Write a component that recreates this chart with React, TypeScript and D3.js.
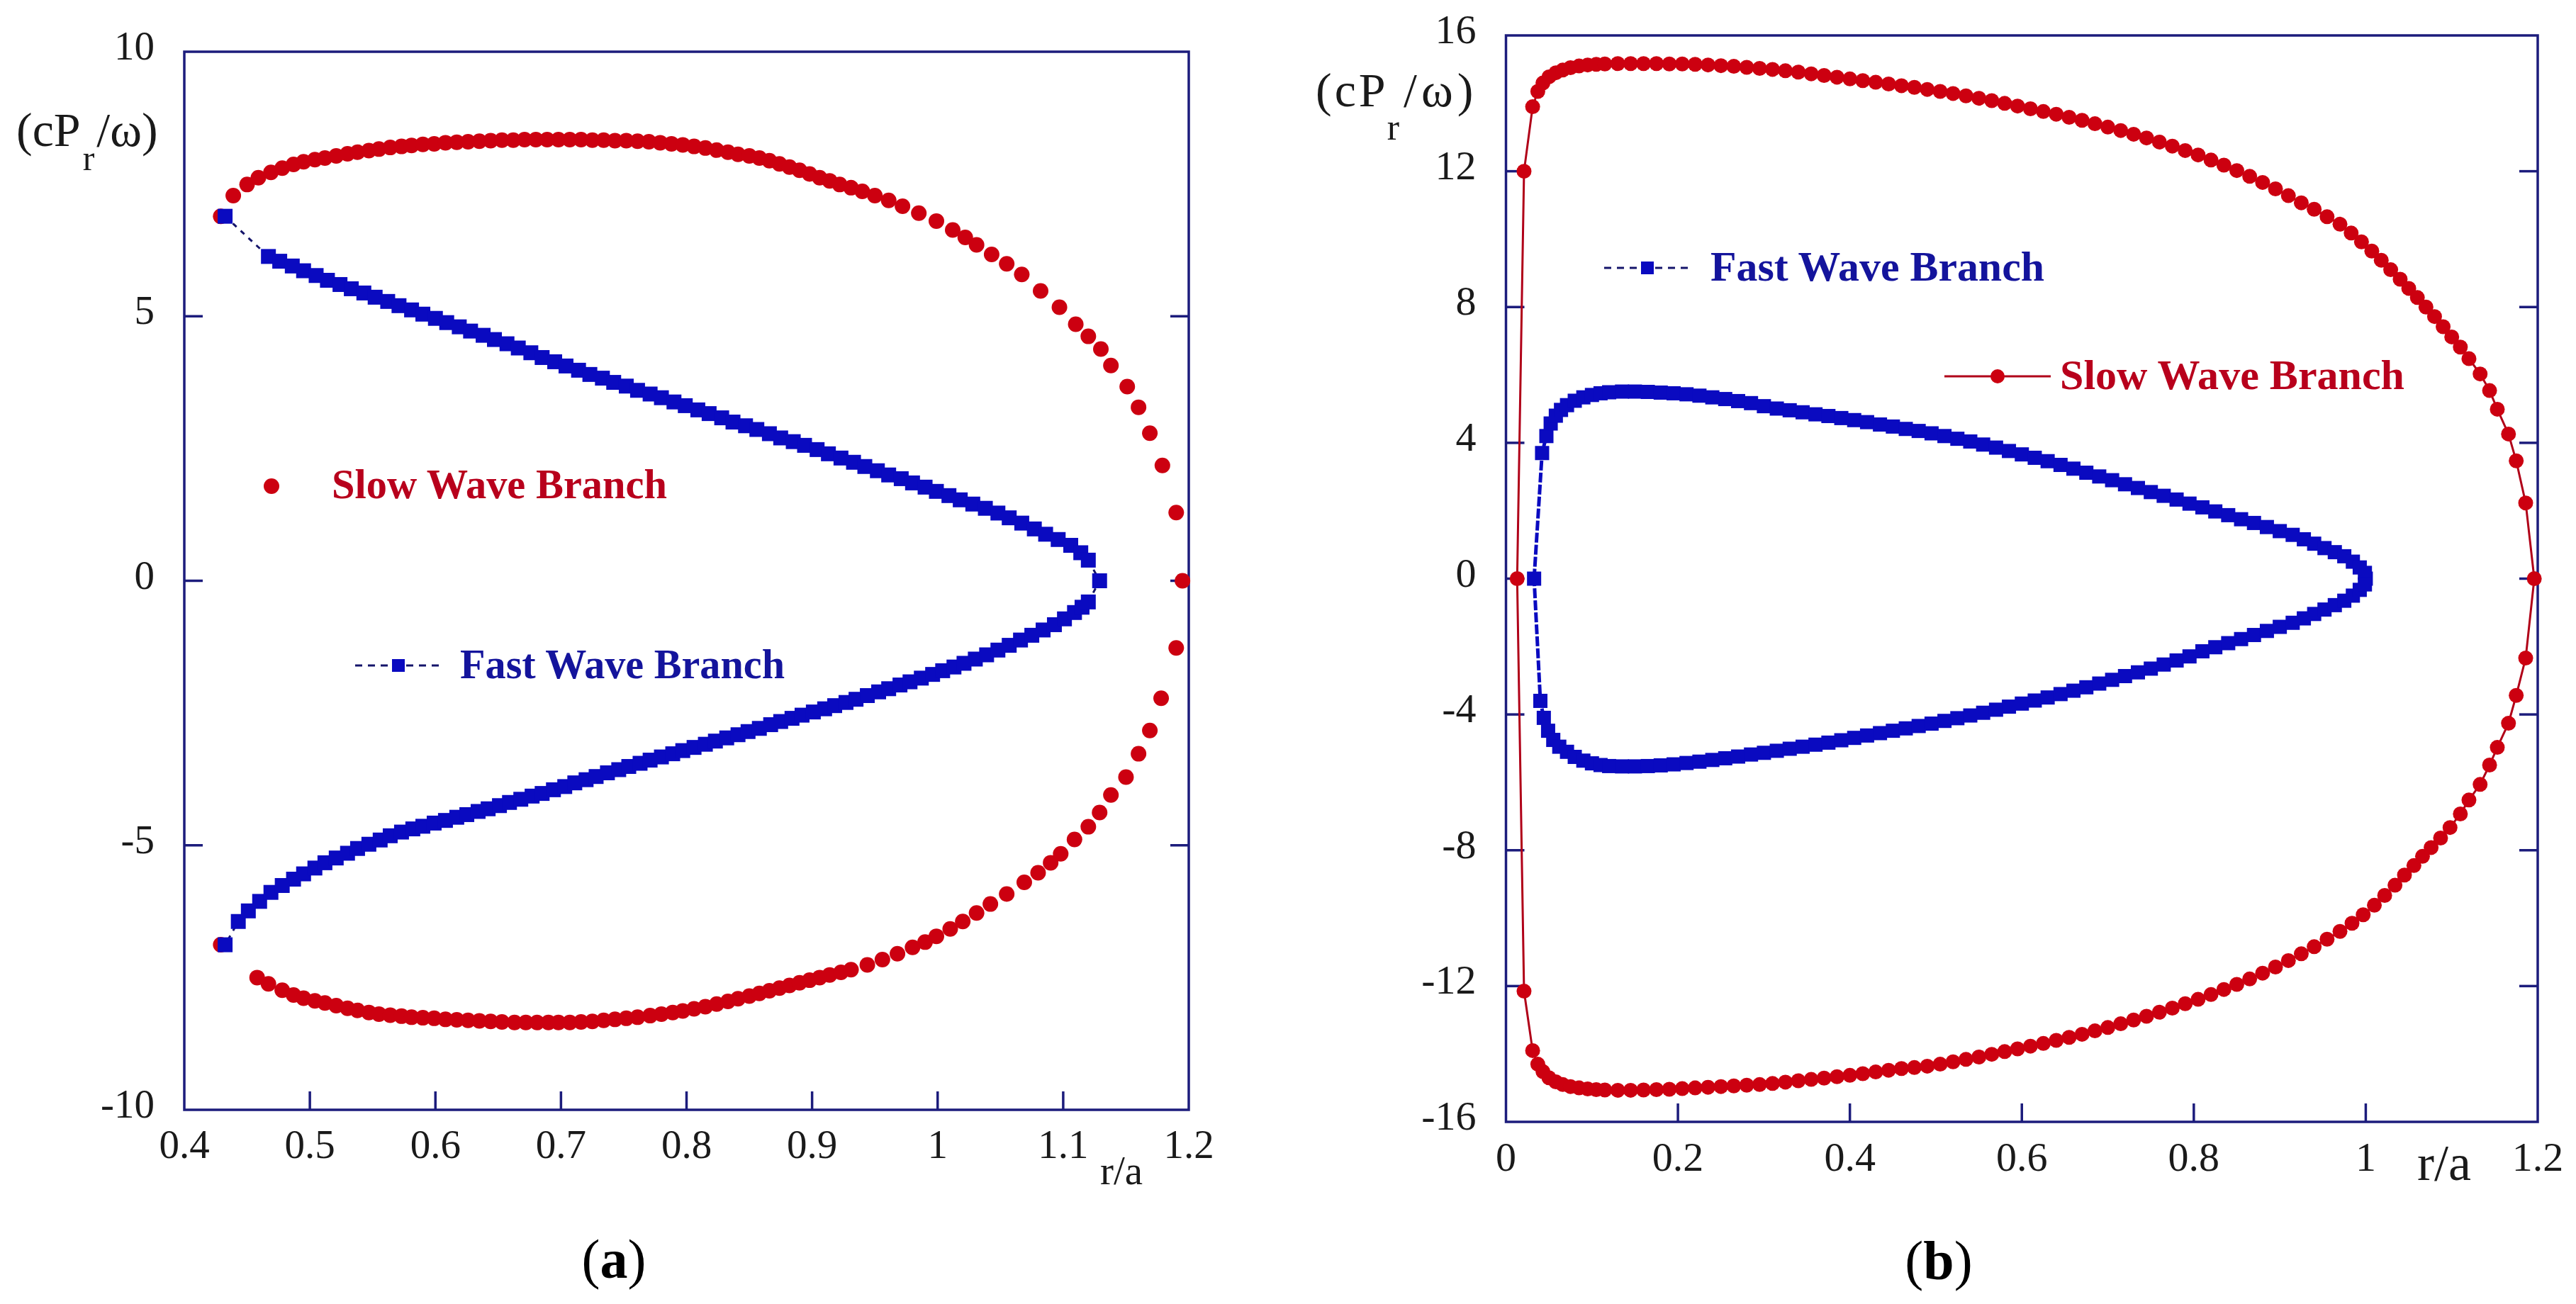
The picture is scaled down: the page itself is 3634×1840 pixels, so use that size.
import React from 'react';
import * as d3 from 'd3';

const W = 3634;
const H = 1840;
const FONT = "'Liberation Serif', 'Times New Roman', serif";
const AXIS = '#1c1c7c';
const RED = '#cc0010';
const RED_LINE = '#b00018';
const BLUE = '#0a0ac0';
const DASH = '#14146a';
const TXT = '#1a1a1a';

type P = [number, number];

// ---------- Panel (a) ----------
const slowAUpper: P[] = [
  [0.429, 6.89], [0.439, 7.28], [0.450, 7.49], [0.459, 7.62], [0.469, 7.72], [0.478, 7.80], [0.487, 7.87],
  [0.495, 7.92], [0.504, 7.96], [0.512, 7.99], [0.521, 8.03], [0.530, 8.07], [0.538, 8.10], [0.547, 8.13],
  [0.555, 8.16], [0.564, 8.19], [0.573, 8.21], [0.581, 8.23], [0.590, 8.25], [0.599, 8.26], [0.608, 8.28],
  [0.617, 8.29], [0.626, 8.30], [0.635, 8.31], [0.644, 8.32], [0.653, 8.33], [0.662, 8.33], [0.671, 8.34],
  [0.680, 8.34], [0.689, 8.34], [0.698, 8.34], [0.707, 8.34], [0.716, 8.34], [0.725, 8.33], [0.734, 8.33],
  [0.743, 8.32], [0.752, 8.32], [0.761, 8.31], [0.770, 8.30], [0.779, 8.28], [0.788, 8.26], [0.797, 8.24],
  [0.806, 8.21], [0.815, 8.18], [0.824, 8.14], [0.833, 8.10], [0.841, 8.06], [0.850, 8.03], [0.858, 7.99],
  [0.866, 7.94], [0.874, 7.88], [0.882, 7.82], [0.890, 7.76], [0.898, 7.69], [0.906, 7.62], [0.914, 7.56],
  [0.922, 7.49], [0.931, 7.43], [0.940, 7.36], [0.950, 7.28], [0.961, 7.19], [0.972, 7.08], [0.985, 6.95],
  [0.999, 6.80], [1.012, 6.63], [1.022, 6.49], [1.031, 6.35], [1.043, 6.17], [1.055, 5.99], [1.067, 5.79],
  [1.082, 5.48], [1.097, 5.17], [1.110, 4.85], [1.120, 4.62], [1.130, 4.38], [1.138, 4.07], [1.151, 3.67],
  [1.160, 3.28], [1.169, 2.79], [1.179, 2.18], [1.190, 1.29], [1.195, 0],
];
const slowALower: P[] = [
  [0.429, -6.88], [0.458, -7.50], [0.467, -7.62], [0.478, -7.74], [0.487, -7.83], [0.495, -7.89], [0.504, -7.94],
  [0.512, -7.98], [0.521, -8.03], [0.530, -8.08], [0.538, -8.12], [0.547, -8.16], [0.555, -8.19], [0.564, -8.21],
  [0.573, -8.23], [0.581, -8.25], [0.590, -8.26], [0.599, -8.27], [0.608, -8.29], [0.617, -8.30], [0.626, -8.31],
  [0.635, -8.32], [0.644, -8.33], [0.653, -8.34], [0.663, -8.35], [0.672, -8.35], [0.681, -8.35], [0.690, -8.35],
  [0.698, -8.35], [0.707, -8.35], [0.716, -8.34], [0.725, -8.33], [0.734, -8.31], [0.743, -8.29], [0.752, -8.27],
  [0.761, -8.25], [0.771, -8.22], [0.780, -8.19], [0.789, -8.16], [0.797, -8.13], [0.806, -8.09], [0.815, -8.05],
  [0.824, -8.00], [0.833, -7.95], [0.841, -7.90], [0.850, -7.85], [0.858, -7.80], [0.866, -7.75], [0.874, -7.70],
  [0.882, -7.65], [0.890, -7.60], [0.898, -7.55], [0.906, -7.50], [0.914, -7.45], [0.923, -7.40], [0.931, -7.35],
  [0.944, -7.26], [0.956, -7.16], [0.968, -7.05], [0.980, -6.93], [0.990, -6.83], [0.999, -6.72], [1.010, -6.58],
  [1.020, -6.44], [1.031, -6.28], [1.042, -6.11], [1.055, -5.92], [1.069, -5.70], [1.080, -5.52], [1.090, -5.33],
  [1.098, -5.16], [1.109, -4.89], [1.120, -4.65], [1.129, -4.38], [1.138, -4.05], [1.150, -3.71], [1.160, -3.27],
  [1.169, -2.83], [1.178, -2.22], [1.190, -1.27],
];
const fastAUpper: P[] = [
  [0.4325, 6.89], [0.467, 6.13], [0.476, 6.04], [0.486, 5.95], [0.495, 5.86], [0.505, 5.77], [0.514, 5.68],
  [0.524, 5.60], [0.533, 5.52], [0.543, 5.44], [0.552, 5.36], [0.562, 5.28], [0.571, 5.20], [0.581, 5.12],
  [0.590, 5.04], [0.600, 4.96], [0.609, 4.88], [0.619, 4.80], [0.628, 4.72], [0.638, 4.64], [0.647, 4.56],
  [0.657, 4.48], [0.666, 4.40], [0.676, 4.31], [0.685, 4.22], [0.695, 4.14], [0.704, 4.06], [0.714, 3.98],
  [0.723, 3.90], [0.733, 3.83], [0.742, 3.75], [0.752, 3.68], [0.761, 3.60], [0.771, 3.53], [0.780, 3.46],
  [0.790, 3.38], [0.799, 3.31], [0.809, 3.23], [0.818, 3.16], [0.828, 3.08], [0.837, 3.00], [0.847, 2.93],
  [0.856, 2.86], [0.866, 2.78], [0.875, 2.70], [0.885, 2.63], [0.894, 2.56], [0.904, 2.48], [0.913, 2.40],
  [0.923, 2.32], [0.933, 2.24], [0.942, 2.16], [0.952, 2.08], [0.961, 2.00], [0.971, 1.93], [0.980, 1.85],
  [0.990, 1.77], [0.999, 1.69], [1.009, 1.61], [1.018, 1.53], [1.028, 1.45], [1.038, 1.37], [1.048, 1.28],
  [1.057, 1.19], [1.067, 1.09], [1.077, 0.98], [1.086, 0.88], [1.096, 0.78], [1.106, 0.67], [1.114, 0.53],
  [1.120, 0.39], [1.129, 0],
];
const fastALower: P[] = [
  [0.4325, -6.88], [0.443, -6.44], [0.451, -6.24], [0.460, -6.06], [0.469, -5.89], [0.478, -5.76], [0.487, -5.64],
  [0.495, -5.54], [0.504, -5.43], [0.512, -5.33], [0.521, -5.24], [0.530, -5.15], [0.538, -5.06], [0.547, -4.98],
  [0.556, -4.90], [0.564, -4.82], [0.573, -4.75], [0.582, -4.69], [0.590, -4.64], [0.599, -4.58], [0.608, -4.53],
  [0.617, -4.47], [0.625, -4.42], [0.634, -4.36], [0.642, -4.31], [0.651, -4.25], [0.659, -4.19], [0.668, -4.13],
  [0.677, -4.07], [0.685, -4.02], [0.694, -3.95], [0.703, -3.89], [0.711, -3.82], [0.720, -3.76], [0.728, -3.70],
  [0.737, -3.63], [0.746, -3.57], [0.754, -3.51], [0.763, -3.45], [0.771, -3.39], [0.780, -3.33], [0.789, -3.27],
  [0.797, -3.21], [0.806, -3.15], [0.815, -3.09], [0.823, -3.03], [0.832, -2.97], [0.841, -2.91], [0.849, -2.85],
  [0.858, -2.79], [0.867, -2.72], [0.875, -2.66], [0.884, -2.60], [0.892, -2.54], [0.901, -2.48], [0.910, -2.42],
  [0.918, -2.36], [0.927, -2.30], [0.935, -2.24], [0.944, -2.17], [0.953, -2.10], [0.961, -2.04], [0.970, -1.97],
  [0.978, -1.91], [0.987, -1.84], [0.996, -1.77], [1.004, -1.70], [1.013, -1.63], [1.021, -1.56], [1.030, -1.48],
  [1.039, -1.40], [1.048, -1.31], [1.057, -1.22], [1.066, -1.12], [1.075, -1.03], [1.084, -0.93], [1.093, -0.83],
  [1.101, -0.72], [1.109, -0.60], [1.115, -0.50], [1.120, -0.40],
];

const xTicksA = [0.4, 0.5, 0.6, 0.7, 0.8, 0.9, 1.0, 1.1, 1.2];
const xTickLabelsA = ['0.4', '0.5', '0.6', '0.7', '0.8', '0.9', '1', '1.1', '1.2'];
const yTicksA = [-10, -5, 0, 5, 10];
const yTickLabelsA = ['-10', '-5', '0', '5', '10'];

// ---------- Panel (b) ----------
const slowBUpper: P[] = [
  [0.013, 0], [0.021, 12.0], [0.031, 13.9], [0.037, 14.35], [0.043, 14.6], [0.050, 14.78], [0.058, 14.9],
  [0.066, 14.98], [0.075, 15.05], [0.085, 15.10], [0.095, 15.13], [0.105, 15.15], [0.115, 15.16], [0.130, 15.17],
  [0.145, 15.17], [0.160, 15.17], [0.175, 15.17], [0.190, 15.16], [0.205, 15.16], [0.220, 15.15], [0.235, 15.13],
  [0.250, 15.11], [0.265, 15.09], [0.280, 15.06], [0.295, 15.03], [0.310, 15.00], [0.325, 14.96], [0.340, 14.92],
  [0.355, 14.87], [0.370, 14.82], [0.385, 14.77], [0.400, 14.72], [0.415, 14.67], [0.430, 14.62], [0.445, 14.57],
  [0.460, 14.52], [0.475, 14.47], [0.490, 14.41], [0.505, 14.35], [0.520, 14.29], [0.535, 14.22], [0.550, 14.15],
  [0.565, 14.08], [0.580, 14.00], [0.595, 13.92], [0.610, 13.84], [0.625, 13.76], [0.640, 13.68], [0.655, 13.59],
  [0.670, 13.50], [0.685, 13.40], [0.700, 13.30], [0.715, 13.20], [0.730, 13.09], [0.745, 12.98], [0.760, 12.86],
  [0.775, 12.74], [0.790, 12.61], [0.805, 12.48], [0.820, 12.33], [0.835, 12.18], [0.850, 12.02], [0.865, 11.85],
  [0.880, 11.67], [0.895, 11.48], [0.910, 11.28], [0.925, 11.07], [0.940, 10.88], [0.955, 10.66], [0.970, 10.44],
  [0.983, 10.18], [0.995, 9.92], [1.007, 9.65], [1.018, 9.38], [1.029, 9.10], [1.040, 8.82], [1.050, 8.55],
  [1.060, 8.28], [1.070, 8.00], [1.080, 7.72], [1.090, 7.42], [1.100, 7.12], [1.110, 6.82], [1.120, 6.48],
  [1.133, 6.03], [1.144, 5.54], [1.153, 4.99], [1.166, 4.26], [1.175, 3.47], [1.186, 2.23], [1.196, 0],
];
const slowBLower: P[] = [
  [0.021, -12.15], [0.031, -13.9], [0.037, -14.3], [0.043, -14.52], [0.050, -14.7], [0.058, -14.82], [0.066, -14.9],
  [0.075, -14.96], [0.085, -15.0], [0.095, -15.03], [0.105, -15.05], [0.115, -15.06], [0.130, -15.07], [0.145, -15.07],
  [0.160, -15.06], [0.175, -15.05], [0.190, -15.04], [0.205, -15.02], [0.220, -15.00], [0.235, -14.98], [0.250, -14.96],
  [0.265, -14.94], [0.280, -14.92], [0.295, -14.90], [0.310, -14.87], [0.325, -14.83], [0.340, -14.79], [0.355, -14.75],
  [0.370, -14.71], [0.385, -14.67], [0.400, -14.63], [0.415, -14.58], [0.430, -14.53], [0.445, -14.48], [0.460, -14.43],
  [0.475, -14.40], [0.490, -14.36], [0.505, -14.30], [0.520, -14.23], [0.535, -14.16], [0.550, -14.09], [0.565, -14.01],
  [0.580, -13.93], [0.595, -13.85], [0.610, -13.77], [0.625, -13.69], [0.640, -13.60], [0.655, -13.51], [0.670, -13.42],
  [0.685, -13.32], [0.700, -13.22], [0.715, -13.11], [0.730, -13.00], [0.745, -12.89], [0.760, -12.77], [0.775, -12.65],
  [0.790, -12.52], [0.805, -12.39], [0.820, -12.25], [0.835, -12.10], [0.850, -11.95], [0.865, -11.79], [0.880, -11.62],
  [0.895, -11.44], [0.910, -11.25], [0.925, -11.05], [0.940, -10.84], [0.955, -10.62], [0.970, -10.39], [0.984, -10.15],
  [0.997, -9.90], [1.010, -9.62], [1.022, -9.33], [1.034, -9.03], [1.045, -8.73], [1.056, -8.45], [1.066, -8.18],
  [1.076, -7.92], [1.087, -7.64], [1.098, -7.33], [1.110, -6.93], [1.120, -6.52], [1.133, -6.06], [1.144, -5.49],
  [1.153, -4.97], [1.166, -4.26], [1.175, -3.44], [1.186, -2.34],
];
const fastBUpper: P[] = [
  [0.0327, 0], [0.042, 3.70], [0.047, 4.20], [0.052, 4.57], [0.058, 4.80], [0.064, 4.97], [0.071, 5.11],
  [0.080, 5.24], [0.090, 5.34], [0.100, 5.41], [0.110, 5.46], [0.120, 5.49], [0.135, 5.51], [0.150, 5.51],
  [0.165, 5.50], [0.180, 5.48], [0.195, 5.46], [0.210, 5.43], [0.225, 5.39], [0.240, 5.34], [0.255, 5.29],
  [0.270, 5.23], [0.285, 5.17], [0.300, 5.08], [0.315, 5.01], [0.330, 4.96], [0.345, 4.90], [0.360, 4.84],
  [0.375, 4.79], [0.390, 4.73], [0.405, 4.67], [0.420, 4.61], [0.435, 4.54], [0.450, 4.48], [0.465, 4.41],
  [0.480, 4.35], [0.495, 4.28], [0.510, 4.20], [0.525, 4.12], [0.540, 4.04], [0.555, 3.95], [0.570, 3.86],
  [0.585, 3.76], [0.600, 3.66], [0.615, 3.56], [0.630, 3.46], [0.645, 3.35], [0.660, 3.24], [0.675, 3.12],
  [0.690, 3.01], [0.705, 2.90], [0.720, 2.78], [0.735, 2.67], [0.750, 2.55], [0.765, 2.44], [0.780, 2.33],
  [0.795, 2.21], [0.810, 2.10], [0.825, 1.98], [0.840, 1.87], [0.855, 1.75], [0.870, 1.64], [0.885, 1.52],
  [0.900, 1.40], [0.915, 1.29], [0.928, 1.16], [0.940, 1.03], [0.952, 0.90], [0.964, 0.78], [0.975, 0.66],
  [0.985, 0.50], [0.993, 0.33], [0.999, 0.17], [1.000, 0],
];
const fastBLower: P[] = [
  [0.040, -3.60], [0.044, -4.10], [0.049, -4.48], [0.055, -4.75], [0.062, -4.95], [0.071, -5.10], [0.080, -5.25],
  [0.090, -5.36], [0.100, -5.44], [0.110, -5.49], [0.120, -5.52], [0.135, -5.53], [0.150, -5.53], [0.165, -5.52],
  [0.180, -5.50], [0.195, -5.47], [0.210, -5.43], [0.225, -5.39], [0.240, -5.34], [0.255, -5.29], [0.270, -5.24],
  [0.285, -5.18], [0.300, -5.13], [0.315, -5.07], [0.330, -5.01], [0.345, -4.95], [0.360, -4.89], [0.375, -4.83],
  [0.390, -4.76], [0.405, -4.69], [0.420, -4.62], [0.435, -4.55], [0.450, -4.48], [0.465, -4.41], [0.480, -4.34],
  [0.495, -4.27], [0.510, -4.19], [0.525, -4.11], [0.540, -4.03], [0.555, -3.95], [0.570, -3.86], [0.585, -3.77],
  [0.600, -3.68], [0.615, -3.59], [0.630, -3.50], [0.645, -3.40], [0.660, -3.30], [0.675, -3.20], [0.690, -3.09],
  [0.705, -2.98], [0.720, -2.87], [0.735, -2.76], [0.750, -2.65], [0.765, -2.53], [0.780, -2.41], [0.795, -2.29],
  [0.810, -2.14], [0.825, -2.02], [0.840, -1.90], [0.855, -1.78], [0.870, -1.66], [0.885, -1.54], [0.900, -1.42],
  [0.915, -1.30], [0.928, -1.17], [0.940, -1.04], [0.952, -0.91], [0.964, -0.78], [0.975, -0.65], [0.985, -0.50],
  [0.993, -0.33], [0.999, -0.17],
];

const xTicksB = [0, 0.2, 0.4, 0.6, 0.8, 1.0, 1.2];
const xTickLabelsB = ['0', '0.2', '0.4', '0.6', '0.8', '1', '1.2'];
const yTicksB = [-16, -12, -8, -4, 0, 4, 8, 12, 16];
const yTickLabelsB = ['-16', '-12', '-8', '-4', '0', '4', '8', '12', '16'];

const legendLabels = ['Slow Wave Branch', 'Fast Wave Branch'];

type Sc = d3.ScaleLinear<number, number>;

function Frame({ x, y, xTicks, xLabels, yTicks, yLabels, fs, xLabelY }: {
  x: Sc; y: Sc; xTicks: number[]; xLabels: string[]; yTicks: number[]; yLabels: string[]; fs: number; xLabelY: number;
}) {
  const [x0, x1] = x.range();
  const [y0, y1] = y.range(); // y0 bottom, y1 top
  const tl = 26;
  return (
    <g>
      <rect x={x0} y={y1} width={x1 - x0} height={y0 - y1} fill="none" stroke={AXIS} strokeWidth={3.5} />
      {xTicks.map((t, i) => (
        <g key={'xt' + i}>
          {i > 0 && i < xTicks.length - 1 && (
            <line x1={x(t)} x2={x(t)} y1={y0} y2={y0 - tl} stroke={AXIS} strokeWidth={3.5} />
          )}
          <text x={x(t)} y={xLabelY} fontSize={fs} fontFamily={FONT} fill={TXT} textAnchor="middle">{xLabels[i]}</text>
        </g>
      ))}
      {yTicks.map((t, i) => (
        <g key={'yt' + i}>
          {i > 0 && i < yTicks.length - 1 && (
            <g>
              <line x1={x0} x2={x0 + tl} y1={y(t)} y2={y(t)} stroke={AXIS} strokeWidth={3.5} />
              <line x1={x1} x2={x1 - tl} y1={y(t)} y2={y(t)} stroke={AXIS} strokeWidth={3.5} />
            </g>
          )}
          <text x={x0 - 42} y={y(t) + 11} fontSize={fs} fontFamily={FONT} fill={TXT} textAnchor="end">{yLabels[i]}</text>
        </g>
      ))}
    </g>
  );
}

export default function App() {
  const xA = d3.scaleLinear().domain([0.4, 1.2]).range([260, 1677]);
  const yA = d3.scaleLinear().domain([-10, 10]).range([1566, 73]);
  const xB = d3.scaleLinear().domain([0, 1.2]).range([2124.5, 3580]);
  const yB = d3.scaleLinear().domain([-16, 16]).range([1583, 50]);

  const lineA = d3.line<P>().x(d => xA(d[0])).y(d => yA(d[1]));
  const lineB = d3.line<P>().x(d => xB(d[0])).y(d => yB(d[1]));

  const fastAPath = lineA([...fastAUpper, ...fastALower.slice().reverse()]) || '';
  const slowBPath = lineB([...slowBUpper, ...slowBLower.slice().reverse(), slowBUpper[0]]) || '';
  const fastBPath = lineB([...fastBUpper, ...fastBLower.slice().reverse(), fastBUpper[0]]) || '';

  const sqA = 21;
  const sqB = 20;
  const rA = 11;
  const rB = 10.5;

  return (
    <svg width={W} height={H} viewBox={`0 0 ${W} ${H}`} style={{ position: 'absolute', left: 0, top: 0, background: '#fff' }}>
      <rect x={0} y={0} width={W} height={H} fill="#fff" />

      {/* ================= Panel (a) ================= */}
      <Frame x={xA} y={yA} xTicks={xTicksA} xLabels={xTickLabelsA} yTicks={yTicksA} yLabels={yTickLabelsA} fs={57} xLabelY={1634} />
      <text x={1582} y={1671} fontSize={57} fontFamily={FONT} fill={TXT} textAnchor="middle">r/a</text>
      <text x={23} y={206} fontSize={68} fontFamily={FONT} fill={TXT}>
        (cP<tspan fontSize={50} dx={3} dy={34}>r</tspan><tspan dx={3} dy={-34}>/ω)</tspan>
      </text>

      <path d={fastAPath} fill="none" stroke={DASH} strokeWidth={3} strokeDasharray="7 8" />
      {[...slowAUpper, ...slowALower].map((d, i) => (
        <circle key={'sa' + i} cx={xA(d[0])} cy={yA(d[1])} r={rA} fill={RED} />
      ))}
      {[...fastAUpper, ...fastALower].map((d, i) => (
        <rect key={'fa' + i} x={xA(d[0]) - sqA / 2} y={yA(d[1]) - sqA / 2} width={sqA} height={sqA} fill={BLUE} />
      ))}

      {/* legend a */}
      <circle cx={383} cy={686} r={rA} fill={RED} />
      <text x={468} y={703} fontSize={59} fontWeight="bold" fontFamily={FONT} fill="#b8001c" textLength={473} lengthAdjust="spacingAndGlyphs">{legendLabels[0]}</text>
      <line x1={501} x2={624} y1={939} y2={939} stroke={DASH} strokeWidth={3} strokeDasharray="10 8" />
      <rect x={562 - 9} y={939 - 9} width={18} height={18} fill={BLUE} />
      <text x={649} y={957} fontSize={59} fontWeight="bold" fontFamily={FONT} fill="#14149c" textLength={458} lengthAdjust="spacingAndGlyphs">{legendLabels[1]}</text>

      <text x={866} y={1803} fontSize={78} fontFamily={FONT} fill="#000" textAnchor="middle">
        (<tspan fontWeight="bold">a</tspan>)
      </text>

      {/* ================= Panel (b) ================= */}
      <Frame x={xB} y={yB} xTicks={xTicksB} xLabels={xTickLabelsB} yTicks={yTicksB} yLabels={yTickLabelsB} fs={58} xLabelY={1652} />
      <text x={3448} y={1665} fontSize={72} fontFamily={FONT} fill={TXT} textAnchor="middle">r/a</text>
      <text x={1856} y={150} fontSize={68} fontFamily={FONT} fill={TXT} letterSpacing={4}>
        (cP<tspan fontSize={52} dx={-2} dy={47}>r</tspan><tspan dx={2} dy={-47} letterSpacing={6}>/ω)</tspan>
      </text>

      <path d={slowBPath} fill="none" stroke={RED_LINE} strokeWidth={3} />
      <path d={fastBPath} fill="none" stroke={BLUE} strokeWidth={5} strokeDasharray="14 3" />
      {[...slowBUpper, ...slowBLower].map((d, i) => (
        <circle key={'sb' + i} cx={xB(d[0])} cy={yB(d[1])} r={rB} fill={RED} />
      ))}
      {[...fastBUpper, ...fastBLower].map((d, i) => (
        <rect key={'fb' + i} x={xB(d[0]) - sqB / 2} y={yB(d[1]) - sqB / 2} width={sqB} height={sqB} fill={BLUE} />
      ))}

      {/* legend b */}
      <line x1={2263} x2={2387} y1={378} y2={378} stroke={DASH} strokeWidth={3} strokeDasharray="10 8" />
      <rect x={2324 - 9} y={378 - 9} width={18} height={18} fill={BLUE} />
      <text x={2413} y={396} fontSize={60} fontWeight="bold" fontFamily={FONT} fill="#14149c" textLength={471} lengthAdjust="spacingAndGlyphs">{legendLabels[1]}</text>
      <line x1={2743} x2={2893} y1={531} y2={531} stroke={RED_LINE} strokeWidth={3} />
      <circle cx={2818} cy={531} r={10} fill={RED} />
      <text x={2906} y={549} fontSize={60} fontWeight="bold" fontFamily={FONT} fill="#b8001c" textLength={486} lengthAdjust="spacingAndGlyphs">{legendLabels[0]}</text>

      <text x={2735} y={1805} fontSize={78} fontFamily={FONT} fill="#000" textAnchor="middle">
        (<tspan fontWeight="bold">b</tspan>)
      </text>
    </svg>
  );
}
